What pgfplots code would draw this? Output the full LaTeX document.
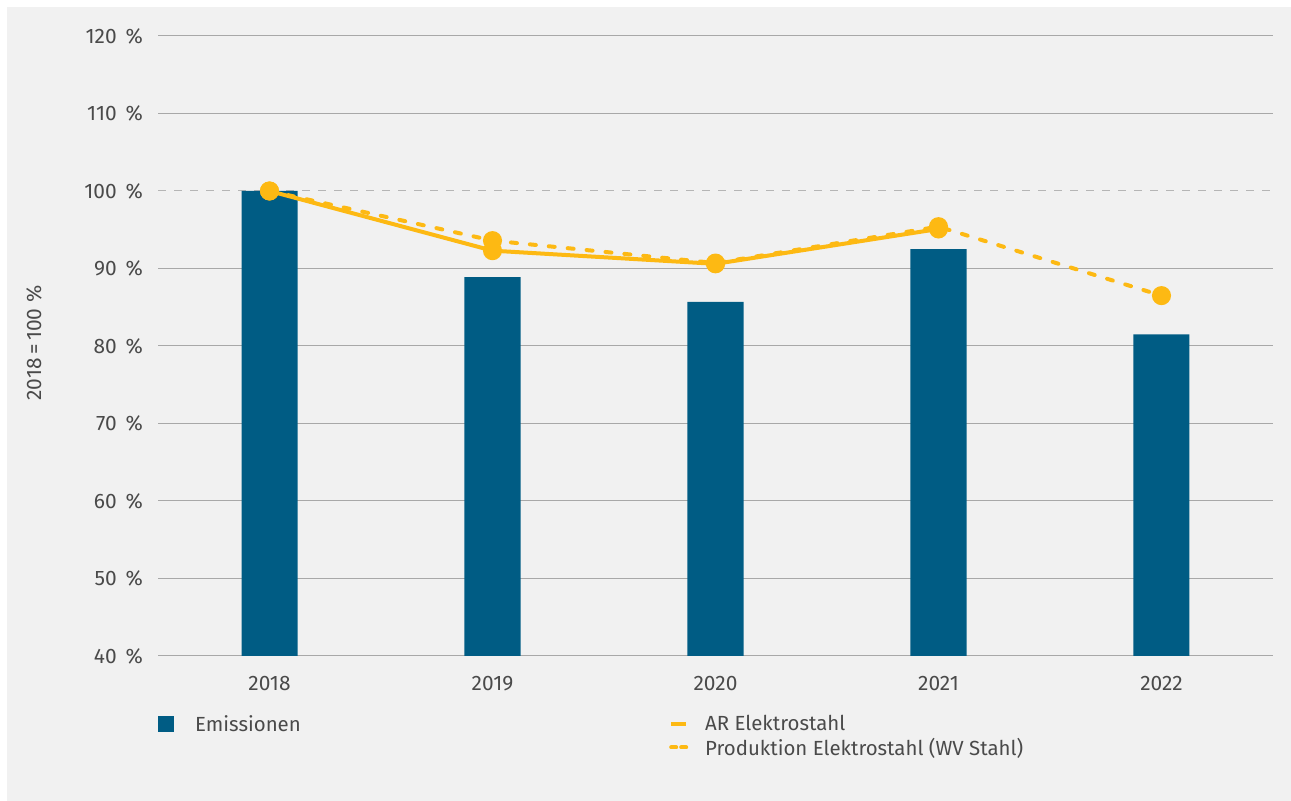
\documentclass[border=0pt]{standalone}
\usepackage{fontspec}
\setmainfont{Fira Sans}
\usepackage{pgfplots}
\pgfplotsset{compat=1.18}
\definecolor{bg}{HTML}{F1F1F1}
\definecolor{barblue}{HTML}{005C84}
\definecolor{ygold}{HTML}{FDB913}
\definecolor{gridc}{HTML}{A8A8A8}
\definecolor{txt}{HTML}{4A4A4A}
\newcommand{\chartfont}{\fontsize{21}{25}\selectfont}
\newcommand{\legfont}{\fontsize{20.5}{24}\selectfont}
\begin{document}
\begin{tikzpicture}[x=1bp,y=1bp]
\fill[white] (0,0) rectangle (1291,801);
\fill[bg] (7,0) rectangle (1291,794);
\begin{axis}[
  at={(158bp,145bp)}, anchor=south west,
  width=1115bp, height=620bp, scale only axis,
  xmin=-0.5, xmax=4.5, ymin=40, ymax=120,
  axis line style={draw=none},
  xtick={0,1,2,3,4}, xticklabels={2018,2019,2020,2021,2022},
  ytick={40,50,60,70,80,90,110,120},
  extra y ticks={100},
  extra y tick style={major grid style={color=gridc!85, line width=1bp, dash pattern=on 8bp off 8bp}},
  ymajorgrids, major grid style={color=gridc, line width=1bp},
  major tick length=0pt,
  tick style={draw=none},
  /pgf/number format/assume math mode=true,
  yticklabel={\pgfmathprintnumber{\tick}\hspace{0.42em}\%},
  tick label style={font=\chartfont, text=txt, inner sep=0pt},
  yticklabel style={xshift=-15bp},
  xticklabel style={yshift=-20bp},
  ylabel={2018\,=\,100\ \%},
  every axis y label/.style={at={(axis description cs:0,0.5)}, anchor=center, xshift=-124bp, yshift=3bp, rotate=90, font=\chartfont, text=txt},
  legend columns=2,
  legend cell align=left,
  legend style={at={(0,0)}, anchor=north west, yshift=-59bp, draw=none, fill=none, inner sep=0pt,
    font=\legfont, text=txt, row sep=5.5bp,
    nodes={inner sep=0pt},
    /tikz/column 1/.style={column sep=21bp},
    /tikz/column 3/.style={column sep=17bp}},
]
\addplot[ybar, bar width=56bp, fill=barblue, draw=none,
  legend image code/.code={\fill[barblue] (0bp,-8bp) rectangle (16bp,8bp);}]
  coordinates {(0,100) (1,88.9) (2,85.7) (3,92.5) (4,81.5)};
\addlegendentry{\makebox[474bp][l]{Emissionen}}
\addplot[ygold, line width=4bp, mark=*, mark size=7.5bp, mark options={solid, draw=none, fill=ygold},
  legend image code/.code={\draw[ygold, line width=4bp] (0bp,0bp) -- (15bp,0bp);}]
  coordinates {(0,100) (1,92.3) (2,90.6) (3,95.1)};
\addlegendentry{AR Elektrostahl}
\addlegendimage{empty legend}
\addlegendentry{}
\addplot[ygold, line width=4bp, line cap=round, dash pattern=on 6bp off 13bp, mark=*, mark size=7.5bp, mark options={solid, draw=none, fill=ygold},
  legend image code/.code={\draw[ygold, line width=4bp, dash pattern=on 5bp off 5bp] (0bp,0bp) -- (15bp,0bp);}]
  coordinates {(0,100) (1,93.6) (2,90.7) (3,95.4) (4,86.5)};
\addlegendentry{Produktion Elektrostahl (WV Stahl)}
\end{axis}
\pgfresetboundingbox
\useasboundingbox (0,0) rectangle (1291,801);
\end{tikzpicture}
\end{document}
